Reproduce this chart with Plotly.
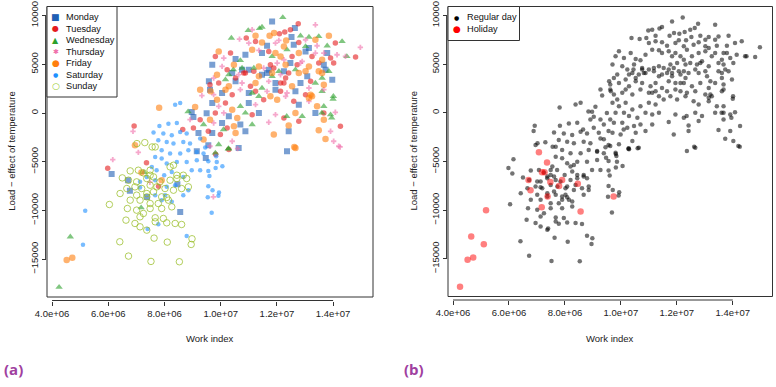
import plotly.graph_objects as go

W, H = 776, 387

# ---------------- data (work index in millions, load - effect of temperature) -------------
mon_wi = [11.83, 12.64, 12.52, 11.65, 12.6, 13.14, 13.79, 10.53, 11.47, 13.02, 9.7, 11.0, 11.71, 12.48, 13.67,
          11.47, 9.58, 10.53, 11.95, 12.84, 13.97, 10.05, 12.66, 9.7, 11.0, 12.78, 10.29, 11.36, 13.37, 10.05,
          10.7, 9.7, 10.88, 12.42, 10.64, 12.36, 9.5, 9.21, 9.15, 9.03, 8.97, 9.47, 6.12, 9.56, 9.62,
          10.76, 11.65, 12.25, 13.08, 10.41, 11.0, 11.95, 10.88, 13.73]
mon_load = [9395, 8712, 7790, 6902, 7005, 6663, 6151, 5536, 6151, 6322, 4956, 4444, 4444, 5127, 4956,
            3931, 3248, 3248, 3078, 3078, 3419, 2053, 2224, 1029, 1029, 858, -338, 4, 4, -1021,
            -1191, -2045, -1874, -1874, -3582, -3923, -12, -2045, -3923, -406, 106, -4607, -6246, -3309, 2395,
            4444, 4102, 4273, 3761, 4102, 2053, 2395, 5980, 4444]

tue_wi = [12.76, 12.48, 12.28, 10.91, 12.09, 11.24, 12.78, 14.08, 14.8, 13.91, 9.81, 11.71, 12.54, 13.25, 10.23,
          11.18, 11.89, 12.72, 13.49, 14.02, 10.88, 12.42, 9.93, 11.06, 12.25, 10.41, 12.13, 13.02, 10.17, 11.53,
          12.6, 9.81, 11.12, 12.25, 13.67, 10.23, 12.78, 14.26, 9.99, 10.29, 9.27, 9.56, 9.03, 8.65, 6.92,
          5.98, 9.82, 9.62, 10.82, 11.77, 12.31, 13.2, 10.53, 11.24, 12.13, 10.35]
tue_load = [9156, 8542, 8302, 7688, 8132, 7346, 7244, 7176, 5741, 5639, 5810, 6322, 5810, 5810, 4444,
            4273, 4614, 4956, 5127, 5127, 4102, 4102, 3078, 2736, 3078, 1882, 2224, 1882, 1029, 1370,
            1199, 4, -167, -508, 4, -1533, -850, -1362, -2216, -3753, -679, -1874, -1533, -1704, -1328,
            -5665, -4231, 2907, 4102, 4956, 3590, 3248, 3590, 2224, 3078, 6151]

wed_wi = [12.21, 11.47, 11.38, 10.98, 10.38, 13.14, 13.49, 14.32, 12.84, 13.79, 10.7, 12.36, 10.76, 12.07, 13.85,
          10.17, 11.47, 13.37, 11.12, 13.61, 14.0, 10.7, 13.67, 10.88, 12.9, 13.91, 11.12, 9.93, 9.81, 9.39,
          8.84, 10.28, 11.18, 11.83, 12.66, 13.61, 10.29, 11.36, 11.83, 13.02, 14.01, 13.6, 13.95, 12.35, 10.1,
          10.27, 14.49, 10.45]
wed_load = [9805, 8815, 8678, 8473, 7688, 7790, 7859, 7346, 7927, 6902, 5400, 6493, 4614, 4273, 4273,
            3419, 2565, 3078, 2053, 2224, 1438, 687, 687, 4, -338, -167, -1191, -3240, -4094, -1191,
            140, -3650, 4614, 3761, 4444, 3590, 3931, 1712, 5810, 6834, 1712, 4, -508, -338, -1704,
            -3685, 5810, 4444]

thu_wi = [13.37, 11.12, 10.67, 13.02, 12.07, 11.0, 11.95, 13.43, 14.97, 14.44, 14.14, 10.11, 11.36, 13.37, 10.05,
          11.53, 12.9, 10.64, 12.13, 9.75, 10.76, 11.71, 13.14, 10.7, 12.36, 9.93, 11.24, 12.31, 13.14, 10.11,
          11.95, 14.08, 9.75, 11.71, 13.91, 14.02, 14.2, 10.41, 8.91, 9.62, 6.88, 6.16, 10.6, 14.25, 9.33,
          12.01, 12.84, 13.67, 9.75, 11.65, 12.25, 13.67]
thu_load = [9054, 8542, 7585, 7517, 7449, 7176, 7176, 6902, 6732, 5810, 5980, 5639, 6424, 6151, 4785,
            4614, 5297, 3931, 3931, 3590, 3078, 3248, 2565, 2395, 2053, 687, 858, 1712, 1199, 4,
            -167, 72, -1021, -952, -1874, -2899, -3411, -2899, -679, -3411, -1875, -4778, -3650, -3480, 1780,
            5127, 5127, 2395, 1882, 2224, 5468, 6151]

fri_wi = [11.24, 11.74, 11.9, 13.85, 12.33, 11.47, 12.25, 13.61, 9.93, 11.12, 11.95, 12.78, 10.47, 11.36, 12.31,
          13.14, 13.49, 9.87, 11.83, 10.29, 11.24, 12.54, 13.67, 9.64, 13.25, 10.41, 12.01, 13.43, 10.59, 12.66,
          13.67, 10.47, 12.42, 13.49, 10.53, 11.89, 13.73, 12.66, 9.62, 9.39, 9.09, 7.81, 6.95, 12.62, 9.27,
          11.36, 12.78, 13.02, 13.2, 13.14, 10.17, 9.87, 11.77, 12.13, 13.37, 13.61]
fri_load = [7927, 7927, 8200, 7927, 7449, 7244, 6834, 5468, 6322, 6493, 6151, 6151, 4956, 4785, 4956,
            4785, 4273, 3931, 4102, 2736, 3078, 2736, 2907, 2224, 1712, 345, 1370, 687, -508, 4,
            -679, -1362, -1294, -1772, -2045, -2216, -2659, -3582, -679, -2728, 618, 550, -3309, -3480, 2395,
            3761, 4102, 4273, 1882, 1541, 2395, 1370, 1712, 5810, 7517, 4102]

sat_wi = [8.38, 8.56, 7.82, 8.14, 8.44, 7.61, 7.96, 8.26, 8.56, 8.79, 7.78, 8.08, 8.32, 8.67, 8.91,
          7.9, 8.2, 8.56, 8.85, 9.15, 7.67, 7.9, 8.08, 8.44, 8.79, 9.15, 7.55, 7.72, 7.99, 8.26,
          8.67, 8.97, 9.27, 7.13, 7.37, 7.67, 8.08, 8.38, 8.67, 8.85, 7.13, 7.67, 8.02, 7.9, 8.26,
          8.79, 7.4, 7.78, 9.27, 9.45, 9.39, 9.56, 9.84, 9.86, 9.82, 10.06, 9.56, 9.6, 9.71, 9.94,
          9.54, 9.92, 9.68, 9.56]
sat_load = [857, 1028, -1328, -1090, -1021, -2012, -2114, -2285, -1943, -2114, -2797, -2968, -3139, -2968, -3139,
            -3822, -4163, -4163, -3822, -3992, -4505, -4675, -5187, -5017, -5017, -4846, -5529, -5871, -6383, -6041,
            -6554, -5871, -5871, -7066, -6554, -6895, -7578, -7407, -8432, -7920, -7646, -8432, -8432, -8944, -9115,
            -12632, -11900, -11402, -2627, -3548, -4163, -4948, -4436, -5017, -5631, -5461, -5939, -6451, -7920, -8158,
            -8637, -8500, -10242, -7510]

sun_wi = [7.02, 7.3, 7.56, 7.67, 6.78, 7.07, 7.25, 7.49, 8.2, 8.32, 6.5, 6.72, 7.01, 7.37, 7.61,
          7.84, 8.2, 8.44, 8.67, 8.79, 6.66, 6.95, 7.19, 7.49, 7.73, 8.02, 8.32, 8.61, 8.85, 7.01,
          7.37, 7.61, 7.9, 8.08, 6.78, 7.13, 7.49, 7.78, 8.14, 8.26, 6.04, 6.68, 7.01, 7.25, 7.49,
          7.9, 7.13, 7.67, 7.96, 6.63, 6.95, 7.13, 7.37, 7.67, 8.08, 8.38, 8.61, 7.63, 8.1, 8.98,
          8.95, 6.41, 6.72, 7.52, 8.53, 7.37, 6.42, 8.44, 7.49]
sun_load = [-3139, -3036, -3480, -3480, -5939, -5871, -6144, -5871, -5529, -5358, -6656, -6895, -7066, -6724, -6554,
            -7066, -6895, -6383, -6383, -6724, -7749, -7578, -7749, -7407, -7578, -7749, -7920, -7749, -7578, -8432,
            -8603, -8090, -8603, -8671, -8944, -8944, -9286, -9286, -8944, -9627, -9388, -9798, -9969, -10310, -9798,
            -9798, -10651, -10754, -10822, -10993, -11334, -11676, -12018, -11164, -11266, -11334, -11437, -12837, -13247, -12905,
            -13486, -13213, -14681, -15228, -15262, -8261, -8261, -6724, -6383]

hol_wi = [4.25, 4.52, 4.72, 4.65, 5.1, 5.18, 7.07, 7.36, 7.18, 7.27, 6.7, 6.77, 7.48, 7.9, 7.79,
          8.46, 7.38, 7.17, 8.56, 9.74]
hol_load = [-17870, -15090, -14860, -12700, -13520, -10020, -4040, -5100, -6110, -6100, -6900, -7970, -7100, -6900, -7510,
            -7300, -8610, -9710, -10150, -8600]
hol_day = ["Wednesday", "Friday", "Friday", "Wednesday", "Saturday", "Saturday", "Thursday", "Tuesday", "Friday",
           "Wednesday", "Monday", "Monday", "Thursday", "Friday", "Tuesday", "Monday", "Monday", "Wednesday",
           "Monday", "Thursday"]

days = ["Monday", "Tuesday", "Wednesday", "Thursday", "Friday", "Saturday", "Sunday"]
day_wi = [mon_wi, tue_wi, wed_wi, thu_wi, fri_wi, sat_wi, sun_wi]
day_load = [mon_load, tue_load, wed_load, thu_load, fri_load, sat_load, sun_load]

x_tickvals = [4e6, 6e6, 8e6, 1e7, 1.2e7, 1.4e7]
x_ticktext = ["4.0e+06", "6.0e+06", "8.0e+06", "1.0e+07", "1.2e+07", "1.4e+07"]
y_tickvals = [-15000, -10000, -5000, 0, 5000, 10000]
y_ticktext = ["\u221215000", "\u221210000", "\u22125000", "0", "5000", "10000"]
x_range = [3.82e6, 15.42e6]
y_range = [-18880, 10930]

# ---------------- styles ----------------
day_style = {
    "Monday":    dict(symbol="square", size=6, color="rgba(31,95,180,0.6)"),
    "Tuesday":   dict(symbol="circle", size=5.5, color="rgba(228,26,28,0.6)"),
    "Wednesday": dict(symbol="triangle-up", size=6.5, color="rgba(44,160,44,0.6)"),
    "Thursday":  dict(symbol="cross", size=4.5, color="rgba(240,110,170,0.6)"),
    "Friday":    dict(symbol="circle", size=6.5, color="rgba(255,127,14,0.6)"),
    "Saturday":  dict(symbol="circle", size=4.5, color="rgba(30,144,255,0.6)"),
    "Sunday":    dict(symbol="circle-open", size=6.5, color="rgba(154,190,40,0.75)", line=dict(width=1)),
}
legend_sym = {
    "Monday": ("■", "#1F5FB4", 9), "Tuesday": ("●", "#E41A1C", 8), "Wednesday": ("▲", "#2CA02C", 8),
    "Thursday": ("✱", "#F06EAA", 7), "Friday": ("●", "#FF7F0E", 9), "Saturday": ("●", "#1E90FF", 6),
    "Sunday": ("○", "#9ACD32", 9),
}
FONT = "Liberation Sans, Arial, sans-serif"
AX = "#333333"

fig = go.Figure()

# panel (a)
for d, wi, ld in zip(days, day_wi, day_load):
    xs = [v * 1e6 for v in wi] + [v * 1e6 for v, hd in zip(hol_wi, hol_day) if hd == d]
    ys = list(ld) + [v for v, hd in zip(hol_load, hol_day) if hd == d]
    fig.add_trace(go.Scatter(x=xs, y=ys, mode="markers", name=d, marker=day_style[d],
                             xaxis="x", yaxis="y", showlegend=False))

# panel (b)
reg_x = [v * 1e6 for wi in day_wi for v in wi]
reg_y = [v for ld in day_load for v in ld]
fig.add_trace(go.Scatter(x=reg_x, y=reg_y, mode="markers", name="Regular day",
                         marker=dict(symbol="circle", size=4.5, color="rgba(0,0,0,0.55)"),
                         xaxis="x2", yaxis="y2", showlegend=False))
fig.add_trace(go.Scatter(x=[v * 1e6 for v in hol_wi], y=hol_load, mode="markers", name="Holiday",
                         marker=dict(symbol="circle", size=6.5, color="rgba(255,0,0,0.5)"),
                         xaxis="x2", yaxis="y2", showlegend=False))

# pixel -> paper fraction
def px(p):
    return p / W

def py(p):
    return 1 - p / H

panels = [
    dict(xd=[47, 373], yd=[6.5, 297], xpos=300.5, ypos=45.6, xa="x", ya="y"),
    dict(xd=[448, 772.5], yd=[6.5, 296.5], xpos=300, ypos=446.6, xa="x2", ya="y2"),
]

common_x = dict(range=x_range, tickvals=x_tickvals, ticktext=x_ticktext, ticks="outside", ticklen=4,
                tickcolor=AX, showline=False, showgrid=False, zeroline=False, anchor="free", automargin=False,
                tickfont=dict(family=FONT, size=9.5, color="#222"))
common_y = dict(range=y_range, tickvals=y_tickvals, ticktext=y_ticktext, ticks="outside", ticklen=4,
                tickcolor=AX, showline=False, showgrid=False, zeroline=False, anchor="free", tickangle=-90,
                automargin=False, tickfont=dict(family=FONT, size=9.5, color="#222"))

layout = dict(width=W, height=H, margin=dict(l=0, r=0, t=0, b=0, autoexpand=False), plot_bgcolor="white",
              paper_bgcolor="white", showlegend=False, hovermode=False)
shapes = []
annotations = []
for i, p in enumerate(panels):
    sx = "" if i == 0 else "2"
    layout["xaxis" + sx] = dict(common_x, domain=[px(p["xd"][0]), px(p["xd"][1])], position=py(p["xpos"]))
    layout["yaxis" + sx] = dict(common_y, domain=[py(p["yd"][1]), py(p["yd"][0])], position=px(p["ypos"]))
    # box
    shapes.append(dict(type="rect", xref=p["xa"] + " domain", yref=p["ya"] + " domain", x0=0, x1=1, y0=0, y1=1,
                       line=dict(color=AX, width=1)))
    # axis lines spanning tick range
    shapes.append(dict(type="line", xref=p["xa"], yref="paper", x0=x_tickvals[0], x1=x_tickvals[-1],
                       y0=py(p["xpos"]), y1=py(p["xpos"]), line=dict(color=AX, width=1)))
    shapes.append(dict(type="line", xref="paper", yref=p["ya"], x0=px(p["ypos"]), x1=px(p["ypos"]),
                       y0=y_tickvals[0], y1=y_tickvals[-1], line=dict(color=AX, width=1)))
    # axis titles
    annotations.append(dict(text="Work index", xref="paper", yref="paper",
                            x=px((p["xd"][0] + p["xd"][1]) / 2), y=py(338), showarrow=False,
                            font=dict(family=FONT, size=9.5, color="#222"), xanchor="center", yanchor="middle"))
    annotations.append(dict(text="Load − effect of temperature", xref="paper", yref="paper",
                            x=px(p["xd"][0] - 35), y=py((p["yd"][0] + p["yd"][1]) / 2), showarrow=False,
                            textangle=-90, font=dict(family=FONT, size=9.5, color="#222"),
                            xanchor="center", yanchor="middle"))

# panel labels
for lab, xl in [("(a)", 1.5), ("(b)", 401.5)]:
    annotations.append(dict(text="<b>" + lab + "</b>", xref="paper", yref="paper", x=px(xl), y=py(369),
                            showarrow=False, xanchor="left", yanchor="middle",
                            font=dict(family="Open Sans, sans-serif", size=15, color="#A0409F")))

# legend (a)
shapes.append(dict(type="rect", xref="paper", yref="paper", x0=px(47), x1=px(117), y0=py(97), y1=py(6.5),
                    line=dict(color=AX, width=1), fillcolor="white", layer="above"))
for i, d in enumerate(days):
    yy = 17.3 + i * 11.45
    s, c, fs = legend_sym[d]
    annotations.append(dict(text=s, xref="paper", yref="paper", x=px(55.7), y=py(yy), showarrow=False,
                            xanchor="center", yanchor="middle", font=dict(family="DejaVu Sans", size=fs, color=c)))
    annotations.append(dict(text=d, xref="paper", yref="paper", x=px(63.5), y=py(yy), showarrow=False,
                            xanchor="left", yanchor="middle", font=dict(family=FONT, size=9.2, color="#111")))

# legend (b)
shapes.append(dict(type="rect", xref="paper", yref="paper", x0=px(448), x1=px(519.5), y0=py(40.5), y1=py(6.5),
                    line=dict(color=AX, width=1), fillcolor="white", layer="above"))
for i, (lab, s, c, fs) in enumerate([("Regular day", "●", "#000000", 6), ("Holiday", "●", "#FF0000", 9)]):
    yy = 17.3 + i * 11.7
    annotations.append(dict(text=s, xref="paper", yref="paper", x=px(456.7), y=py(yy), showarrow=False,
                            xanchor="center", yanchor="middle", font=dict(family="DejaVu Sans", size=fs, color=c)))
    annotations.append(dict(text=lab, xref="paper", yref="paper", x=px(465.3), y=py(yy), showarrow=False,
                            xanchor="left", yanchor="middle", font=dict(family=FONT, size=9.2, color="#111")))

layout["shapes"] = shapes
layout["annotations"] = annotations
fig.update_layout(**layout)
fig.write_html("out.html", config={"displayModeBar": False, "staticPlot": True},
               post_script="document.body.style.margin='0px';")
